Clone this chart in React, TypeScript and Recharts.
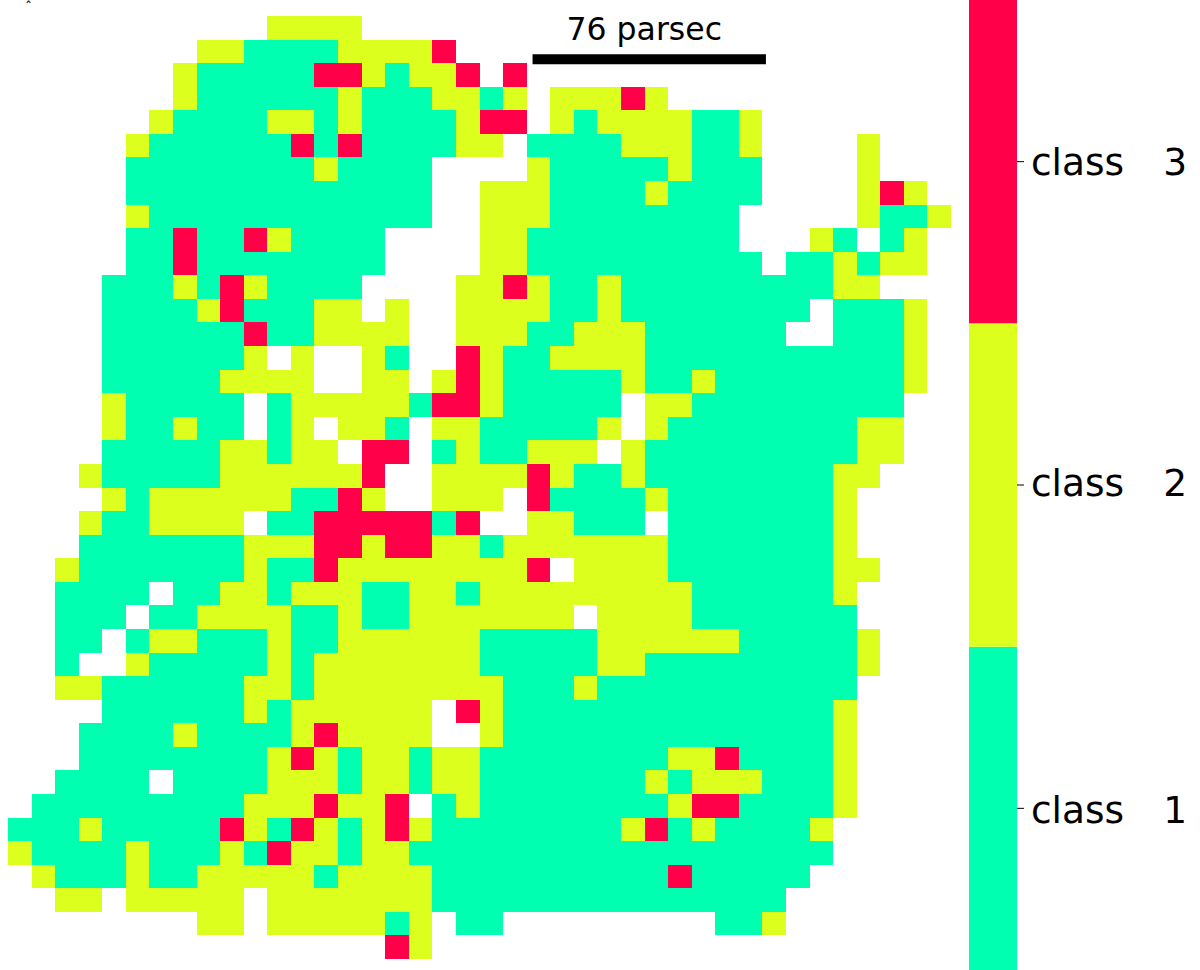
import React from "react";
import { ScatterChart, Scatter, XAxis, YAxis, ReferenceLine, Label, BarChart, Bar } from "recharts";

const FONT = "'DejaVu Sans', sans-serif";
const CLASS_COLORS: Record<string, string> = { "1": "#00FFB0", "2": "#DCFF1E", "3": "#FF0049" };

// One string per map row, one character per map column: '.' = no data, 1/2/3 = class
const MAP_ROWS: string[] = [
  "...........2222.........................",
  "........22111122223.....................",
  ".......2111113321223.3..................",
  ".......211111121112212.22232............",
  "......2111122121111233.212222112........",
  ".....2111111313111122.1111222112....2...",
  ".....1111111121111....2111112111....2...",
  ".....1111111111111..222111121111....232.",
  ".....2111111111111..22211111111.....2112",
  ".....11311321111....22111111111...21.12.",
  ".....11311111111....221111111111.112122.",
  "....11121321111....223211211111111122...",
  "....11112311122.2..222211211111111.1112.",
  "....1111113112222..22211222111111..1112.",
  "....1111112.2..21..32112222111111111112.",
  "....111112222..22.232111112112111111112.",
  "....211111.122222133211111.22111111111..",
  "....211211.12.221.22111112.21111111122..",
  "....1111122122.33.1211222.211111111122..",
  "...2111112222223..2222321121111111122...",
  "....212222221132..222.31111211111112....",
  "...2112222.113333313..22111.11111112....",
  "...111111122233233221222222211111112....",
  "..211111112113222222223.2222111111122...",
  "..1111.11221222112212222222221111112....",
  "..111.112222112112222222.22221111111....",
  "..11.12211121122222211111222222111112...",
  "..1..21111121222222211111221111111112...",
  "..2211111122122222222111211111111111....",
  "....11111121222222.32111111111111112....",
  "...111121111232222..2111111111111112....",
  "...111111112321221221111111122311112....",
  "..1111.11112221221221111111212221112....",
  ".1111111112223223.121111111123311112....",
  "11121111132132123211111111231211112.....",
  "21111211121322122111111111111111111.....",
  ".211121122222122221111111111311111......",
  "..22.22222.2222222111111111111111.......",
  "........22.2222212.11.........112.......",
  "................32......................",
];

const CLASS_WORD = "class   ";
const CLASS_NUMBERS = ["1", "2", "3"];
const CLASS_TICKS = [0.5, 1.5, 2.5];
const COLORBAR = [{ name: "bar", c1: 1, c2: 1, c3: 1 }];
const SCALE_BAR_COLUMNS: [number, number] = [22.25, 32.15];
const SCALE_BAR_ROW = 1.83;
const SCALE_BAR_TEXT = "76 parsec";
const STRAY_MARK = "ˆ";

const GRID = 40;
const MAP_SIZE = 943;
const MAP_LEFT = 8;
const MAP_TOP = 16;
const CELL = MAP_SIZE / GRID;
const LABEL_NUDGE = [1, -2.8, -0.5];

const cellsFor = (cls: string) => {
  const out: { col: number; row: number }[] = [];
  MAP_ROWS.forEach((r, row) => {
    r.split("").forEach((ch, col) => {
      if (ch === cls) out.push({ col: col + 0.5, row: row + 0.5 });
    });
  });
  return out;
};

const makeCell = (color: string) => (p: any) => (
  <rect
    x={p.cx - CELL / 2}
    y={p.cy - CELL / 2}
    width={CELL}
    height={CELL}
    fill={color}
    shapeRendering="crispEdges"
  />
);

const ClassTick = (p: any) => {
  const i = CLASS_TICKS.indexOf(p.payload.value);
  return (
    <text x={p.x + 5} y={p.y + LABEL_NUDGE[i]} dy="0.36em" fontFamily={FONT} fontSize={37.5} fill="#000" xmlSpace="preserve" style={{ whiteSpace: "pre" }}>
      <tspan>{CLASS_WORD}</tspan>
      <tspan dx={3.5}>{CLASS_NUMBERS[i]}</tspan>
    </text>
  );
};

export default function App() {
  return (
    <div style={{ position: "absolute", left: 0, top: 0, width: 1200, height: 970, background: "#fff", overflow: "hidden" }}>
      <svg style={{ position: "absolute", left: 0, top: 0 }} width={60} height={16}>
        <text x={25} y={12} fontFamily={FONT} fontSize={14} fill="#000">{STRAY_MARK}</text>
      </svg>
      <div style={{ position: "absolute", left: 0, top: 0 }}>
        <ScatterChart
          width={MAP_LEFT + MAP_SIZE}
          height={MAP_TOP + MAP_SIZE}
          margin={{ top: MAP_TOP, right: 0, bottom: 0, left: MAP_LEFT }}
        >
          <XAxis type="number" dataKey="col" domain={[0, GRID]} hide />
          <YAxis type="number" dataKey="row" domain={[0, GRID]} reversed hide />
          {["1", "2", "3"].map((c) => (
            <Scatter key={c} data={cellsFor(c)} isAnimationActive={false} shape={makeCell(CLASS_COLORS[c])} />
          ))}
          <ReferenceLine
            segment={[
              { x: SCALE_BAR_COLUMNS[0], y: SCALE_BAR_ROW },
              { x: SCALE_BAR_COLUMNS[1], y: SCALE_BAR_ROW },
            ]}
            stroke="#000"
            strokeWidth={10}
          >
            <Label value={SCALE_BAR_TEXT} position="top" offset={19} dx={-5} fontFamily={FONT} fontSize={31.5} fill="#000" />
          </ReferenceLine>
        </ScatterChart>
      </div>
      <div style={{ position: "absolute", left: 969, top: 0 }}>
        <BarChart width={231} height={970} data={COLORBAR} barCategoryGap={0} margin={{ top: 0, right: 0, bottom: 0, left: 0 }}>
          <XAxis dataKey="name" hide />
          <YAxis
            orientation="right"
            width={183}
            domain={[0, 3]}
            ticks={CLASS_TICKS}
            axisLine={false}
            tickSize={7}
            tickLine={{ stroke: "#000", strokeWidth: 1 }}
            tick={ClassTick}
            interval={0}
          />
          <Bar dataKey="c1" stackId="a" fill={CLASS_COLORS["1"]} isAnimationActive={false} />
          <Bar dataKey="c2" stackId="a" fill={CLASS_COLORS["2"]} isAnimationActive={false} />
          <Bar dataKey="c3" stackId="a" fill={CLASS_COLORS["3"]} isAnimationActive={false} />
        </BarChart>
      </div>
    </div>
  );
}
